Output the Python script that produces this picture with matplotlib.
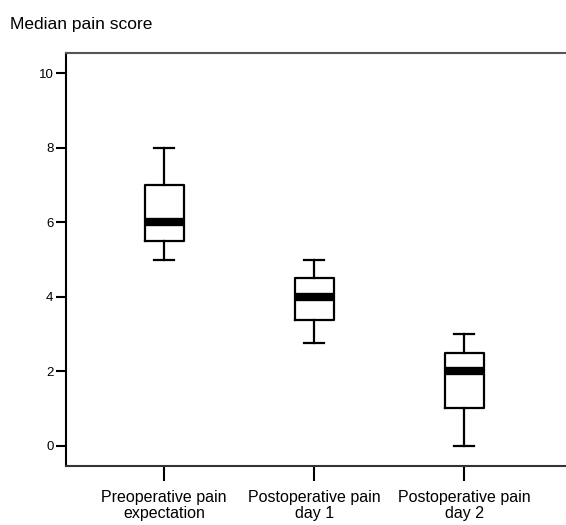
import matplotlib
matplotlib.use("Agg")
import matplotlib.pyplot as plt

plt.rcParams['font.family'] = ['Liberation Sans', 'DejaVu Sans']

categories = ["Preoperative pain\nexpectation", "Postoperative pain\nday 1", "Postoperative pain\nday 2"]
whisker_low = [5.0, 2.75, 0.0]
q1 = [5.5, 3.38, 1.0]
median = [6.0, 4.0, 2.0]
q3 = [7.0, 4.5, 2.5]
whisker_high = [8.0, 5.0, 3.0]
y_ticks = [0, 2, 4, 6, 8, 10]

fig = plt.figure(figsize=(5.66, 5.25), dpi=100)
ax = fig.add_axes([66/566, 59/525, 1 - 66/566, (466-53)/525])

stats = []
for i in range(len(categories)):
    stats.append(dict(whislo=whisker_low[i], q1=q1[i], med=median[i], q3=q3[i],
                      whishi=whisker_high[i], fliers=[], label=categories[i]))

ax.bxp(stats, positions=[1, 2, 3], widths=0.26, capwidths=0.13, showfliers=False,
       boxprops=dict(color='black', linewidth=1.6),
       whiskerprops=dict(color='black', linewidth=1.6),
       capprops=dict(color='black', linewidth=1.6),
       medianprops=dict(color='black', linewidth=6, solid_capstyle='butt'))

ax.set_xlim(0.345, 3.68)
ax.set_ylim(-0.55, 10.55)
ax.set_yticks(y_ticks)
ax.set_yticklabels([str(v) for v in y_ticks], fontsize=9.5)
ax.set_xticks([1, 2, 3])
ax.set_xticklabels(categories, fontsize=11.5, linespacing=1.1)
ax.tick_params(axis='x', length=11, width=1.5, pad=6)
ax.tick_params(axis='y', length=7, width=1.5, pad=2)
ax.spines['right'].set_visible(False)
for s in ['left', 'top', 'bottom']:
    ax.spines[s].set_linewidth(1.5)
ax.spines['left'].set_color('black')
ax.spines['top'].set_color('#555555')
ax.spines['bottom'].set_color('#333333')

fig.text(10/566, 1 - 24/525, "Median pain score", fontsize=12.5, va='center', ha='left')

fig.savefig("out.png", dpi=100)
